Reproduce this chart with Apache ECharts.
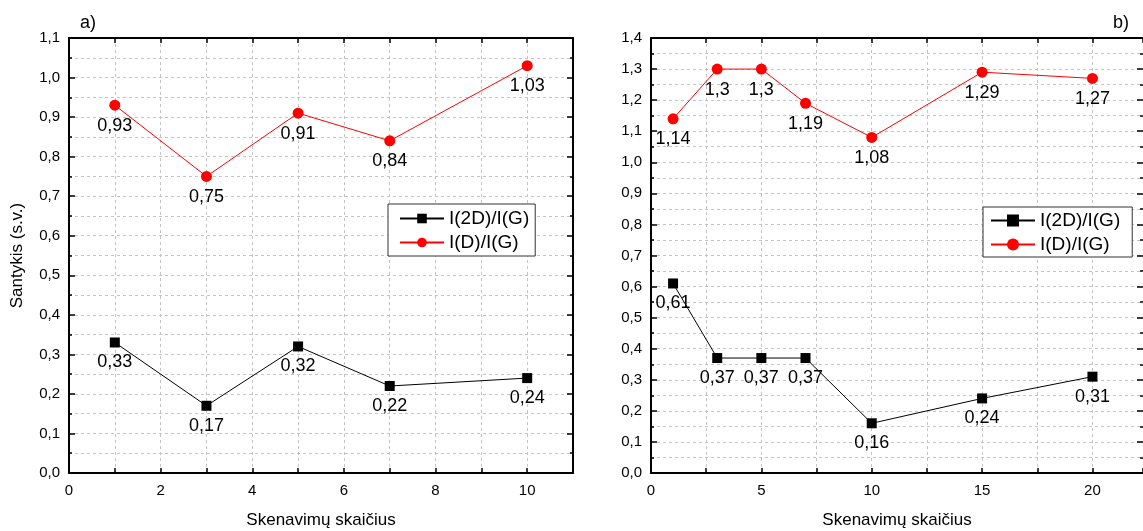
<!DOCTYPE html>
<html>
<head>
<meta charset="utf-8">
<script src="https://cdn.jsdelivr.net/npm/echarts@6/dist/echarts.min.js"></script>
<style>
  html, body { margin: 0; padding: 0; background: #fff; }
  #chart { width: 1143px; height: 531px; }
</style>
</head>
<body>
<div id="chart"></div>
<script>
// Panel a): ratios vs number of scans
const scansA = [1, 3, 5, 7, 10];
const ratio2DA = [0.33, 0.17, 0.32, 0.22, 0.24];
const ratioDA = [0.93, 0.75, 0.91, 0.84, 1.03];

// Panel b)
const scansB = [1, 3, 5, 7, 10, 15, 20];
const ratio2DB = [0.61, 0.37, 0.37, 0.37, 0.16, 0.24, 0.31];
const ratioDB = [1.14, 1.3, 1.3, 1.19, 1.08, 1.29, 1.27];

const seriesNames = ['I(2D)/I(G)', 'I(D)/I(G)'];
const panelTags = ['a)', 'b)'];
const xTitle = 'Skenavimų skaičius';
const yTitle = 'Santykis (s.v.)';

const FONT = '"Liberation Sans", Arial, sans-serif';
const comma = v => String(v).replace('.', ',');

function pairs(xs, ys) { return xs.map((x, i) => [x, ys[i]]); }

const dashed = { show: true, lineStyle: { color: '#c4c4c4', type: [3, 3], width: 1 } };
const axisLine = { show: true, onZero: false, lineStyle: { color: '#000', width: 2 } };

function xAxes(gridIndex, max, interval, labelStep) {
  return [
    {
      gridIndex, type: 'value', min: 0, max, interval,
      axisLine, axisTick: { show: true, inside: true, length: 5, lineStyle: { color: '#000', width: 1.5 } },
      axisLabel: {
        show: true, margin: 10, color: '#000', fontFamily: FONT, fontSize: 15,
        formatter: v => (Math.abs(v / labelStep - Math.round(v / labelStep)) < 1e-6 ? String(v) : '')
      },
      splitLine: dashed,
      name: xTitle, nameLocation: 'middle', nameGap: 39,
      nameTextStyle: { color: '#000', fontFamily: FONT, fontSize: 17 }
    },
    {
      gridIndex, type: 'value', min: 0, max, interval, position: 'top',
      axisLine, axisTick: { show: true, inside: true, length: 5, lineStyle: { color: '#000', width: 1.5 } },
      axisLabel: { show: false }, splitLine: { show: false }
    }
  ];
}

function yAxes(gridIndex, max, withName, showRightLine) {
  const tick = { show: true, inside: true, length: 6, lineStyle: { color: '#000', width: 1.5 } };
  const minor = { show: true, splitNumber: 2, length: 3, lineStyle: { color: '#000', width: 1.5 } };
  return [
    Object.assign({
      gridIndex, type: 'value', min: 0, max, interval: 0.1,
      axisLine, axisTick: tick, minorTick: minor,
      axisLabel: { margin: 9, color: '#000', fontFamily: FONT, fontSize: 15, formatter: v => v.toFixed(1).replace('.', ',') },
      splitLine: dashed, minorSplitLine: dashed
    }, withName ? {
      name: yTitle, nameLocation: 'middle', nameGap: 43,
      nameTextStyle: { color: '#000', fontFamily: FONT, fontSize: 17 }
    } : {}),
    {
      gridIndex, type: 'value', min: 0, max, interval: 0.1, position: 'right',
      axisLine: Object.assign({}, axisLine, { show: showRightLine }),
      axisTick: tick, minorTick: minor,
      axisLabel: { show: false }, splitLine: { show: false }
    }
  ];
}

function lineSeries(name, data, color, symbol, size, xAxisIndex, yAxisIndex) {
  return {
    name, type: 'line', data, xAxisIndex, yAxisIndex,
    symbol, symbolSize: size,
    lineStyle: { color, width: 1 },
    itemStyle: { color },
    label: {
      show: true, position: 'bottom', distance: 6, color: '#000',
      fontFamily: FONT, fontSize: 18, formatter: p => comma(p.value[1])
    },
    emphasis: { disabled: true },
    z: 3
  };
}

const legendBase = {
  orient: 'vertical', selectedMode: false,
  borderColor: '#333', borderWidth: 1, backgroundColor: '#fff',
  itemWidth: 44, itemGap: 5,
  textStyle: { color: '#000', fontFamily: FONT, fontSize: 19 }
};

const option = {
  animation: false,
  backgroundColor: '#fff',
  title: [
    { text: panelTags[0], left: 75, top: 9, textStyle: { fontFamily: FONT, fontSize: 18, fontWeight: 'normal', color: '#000' } },
    { text: panelTags[1], left: 1108, top: 9, textStyle: { fontFamily: FONT, fontSize: 18, fontWeight: 'normal', color: '#000' } }
  ],
  grid: [
    { left: 69, top: 38, width: 504, height: 435, outerBoundsMode: 'none', containLabel: false },
    // the frame of panel b runs up to the right edge of the page
    { left: 651, top: 38, width: 492, height: 435, outerBoundsMode: 'none', containLabel: false }
  ],
  xAxis: [].concat(xAxes(0, 11, 1, 2), xAxes(1, 22.29, 2.5, 5)),
  yAxis: [].concat(yAxes(0, 1.1, true, true), yAxes(1, 1.4, false, false)),
  legend: [
    Object.assign({}, legendBase, {
      left: 388, top: 204, padding: [5, 6, 4, 11], itemHeight: 12,
      data: seriesNames
    }),
    Object.assign({}, legendBase, {
      left: 983, top: 207, padding: [4, 12, 3, 7], itemHeight: 15,
      data: seriesNames
    })
  ],
  series: [
    lineSeries(seriesNames[0], pairs(scansA, ratio2DA), '#000', 'rect', 10, 0, 0),
    lineSeries(seriesNames[1], pairs(scansA, ratioDA), '#ff0000', 'circle', 11, 0, 0),
    lineSeries(seriesNames[0], pairs(scansB, ratio2DB), '#000', 'rect', 10, 2, 2),
    lineSeries(seriesNames[1], pairs(scansB, ratioDB), '#ff0000', 'circle', 11, 2, 2)
  ]
};

const chart = echarts.init(document.getElementById('chart'), null, { renderer: 'canvas' });
chart.setOption(option);
</script>
</body>
</html>
